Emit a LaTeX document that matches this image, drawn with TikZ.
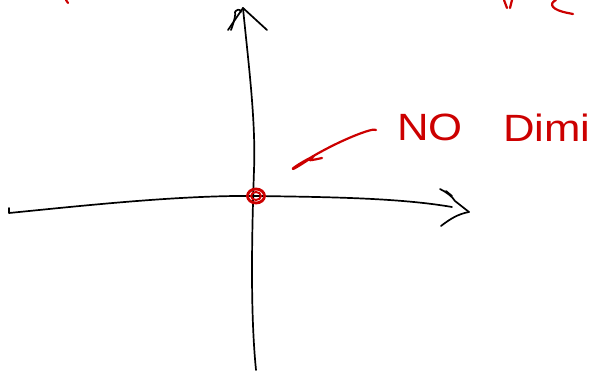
\documentclass[tikz,border=0pt]{standalone}
\usepackage{fontspec}
\setmainfont{Liberation Sans}
\definecolor{inkred}{HTML}{CC0000}
\tikzset{
  axisline/.style={black, line width=1.7pt, line cap=round, line join=round},
  redink/.style={inkred, line width=2.2pt, line cap=round, line join=round},
  redtext/.style={text=inkred, font=\fontsize{38}{38}\selectfont, inner sep=0pt, anchor=west}
}
\begin{document}
\begin{tikzpicture}[x=1pt,y=-1pt]
\useasboundingbox (0,0) rectangle (600,372);
\clip (0,0) rectangle (600,372);
% coordinates
\coordinate (hstart) at (9,213);
\coordinate (origin) at (256,196);
\coordinate (hend) at (452,207);
\coordinate (htip) at (469,212);
\coordinate (vtop) at (243,8);
\coordinate (vbot) at (256,370);
% horizontal axis
\draw[axisline] (9,208) -- (hstart) .. controls (80,206) and (180,195) .. (origin)
  .. controls (330,197) and (400,198) .. (hend);
\draw[axisline] (440,189) .. controls (446,192) and (452,196) .. (455,201) -- (htip);
\draw[axisline] (446,191) -- (452,196);
\draw[axisline] (441,226) .. controls (450,219) and (458,214) .. (htip);
% vertical axis
\draw[axisline] (vtop) .. controls (248,60) and (256,120) .. (254,170)
  .. controls (252,230) and (250,310) .. (vbot);
\draw[axisline] (228,30) -- (vtop) -- (267,30);
\draw[axisline] (231,30) .. controls (234,22) and (236,14) .. (235,12) .. controls (236,10) and (240,8) .. (241,12);
% red circle at origin
\draw[redink, line width=2.8pt] (origin) ellipse [x radius=8.5, y radius=7];
\draw[redink, line width=2pt] (origin) ellipse [x radius=5, y radius=4];
% red arrow pointing to origin
\coordinate (rstart) at (376,130);
\coordinate (rend) at (293,169);
\draw[redink] (rstart) .. controls (374,127) and (340,140) .. (310,158)
  .. controls (300,163) and (290,170) .. (rend)
  .. controls (296,168) and (308,160) .. (314,156)
  .. controls (310,160) and (304,162) .. (322,158);
% red texts
\node[redtext, xscale=1.15] (no) at (397,127) {NO};
\node[redtext, xscale=1.15] (dim) at (503,128) {Dimi};
% red fragments at top
\draw[redink] (66,0) -- (68,3);
\draw[redink] (504,0) -- (507,8);
\draw[redink] (512,0) -- (510,8);
\draw[redink] (556,0) .. controls (548,4) and (552,10) .. (568,13) -- (573,14);
\end{tikzpicture}
\end{document}
